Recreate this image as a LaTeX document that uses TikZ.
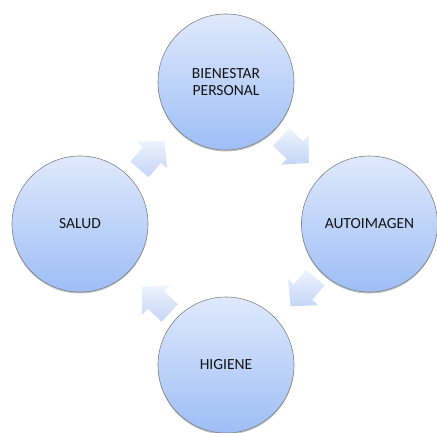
\documentclass[tikz,border=0pt]{standalone}
\usepackage{fontspec}
\setmainfont{Carlito}
\usetikzlibrary{shadows}
\definecolor{ctop}{RGB}{223,233,252}
\definecolor{cbot}{RGB}{158,190,246}
\definecolor{atop}{RGB}{238,243,253}
\definecolor{abot}{RGB}{196,213,247}
\definecolor{cborder}{RGB}{130,130,135}
\definecolor{txt}{RGB}{20,20,20}
\tikzset{
  stagecircle/.style={circle, draw=cborder, line width=0.6bp, top color=ctop, bottom color=cbot,
    inner sep=0pt, minimum size=136bp, align=center, text=txt,
    font=\fontsize{15.5bp}{17bp}\selectfont,
    drop shadow={shadow xshift=0bp, shadow yshift=-1.5bp, opacity=0.35, fill=black!70}},
  cyclearrow/.style={top color=atop, bottom color=abot, draw=none}
}
\newcommand{\cyclearrowshape}[2]{%
  \path[cyclearrow, shift={#1}, rotate=#2]
    (-19,-12) -- (0,-12) -- (0,-20) -- (19,0) -- (0,20) -- (0,12) -- (-19,12) -- cycle;}
\begin{document}
\begin{tikzpicture}[x=1bp,y=1bp]
\useasboundingbox (0,0) rectangle (437,432);
\fill[white] (0,0) rectangle (437,432);
\node[stagecircle] (bien) at (226,350) {BIENESTAR\\PERSONAL};
\node[stagecircle] (auto) at (369.5,208) {AUTOIMAGEN};
\node[stagecircle] (hig) at (226,67) {HIGIENE};
\node[stagecircle] (sal) at (80,208) {SALUD};
% block arrows
\cyclearrowshape{(152,277)}{49}
\cyclearrowshape{(295,282)}{-43}
\cyclearrowshape{(303,140)}{-131}
\cyclearrowshape{(156,132)}{137}
\end{tikzpicture}
\end{document}
